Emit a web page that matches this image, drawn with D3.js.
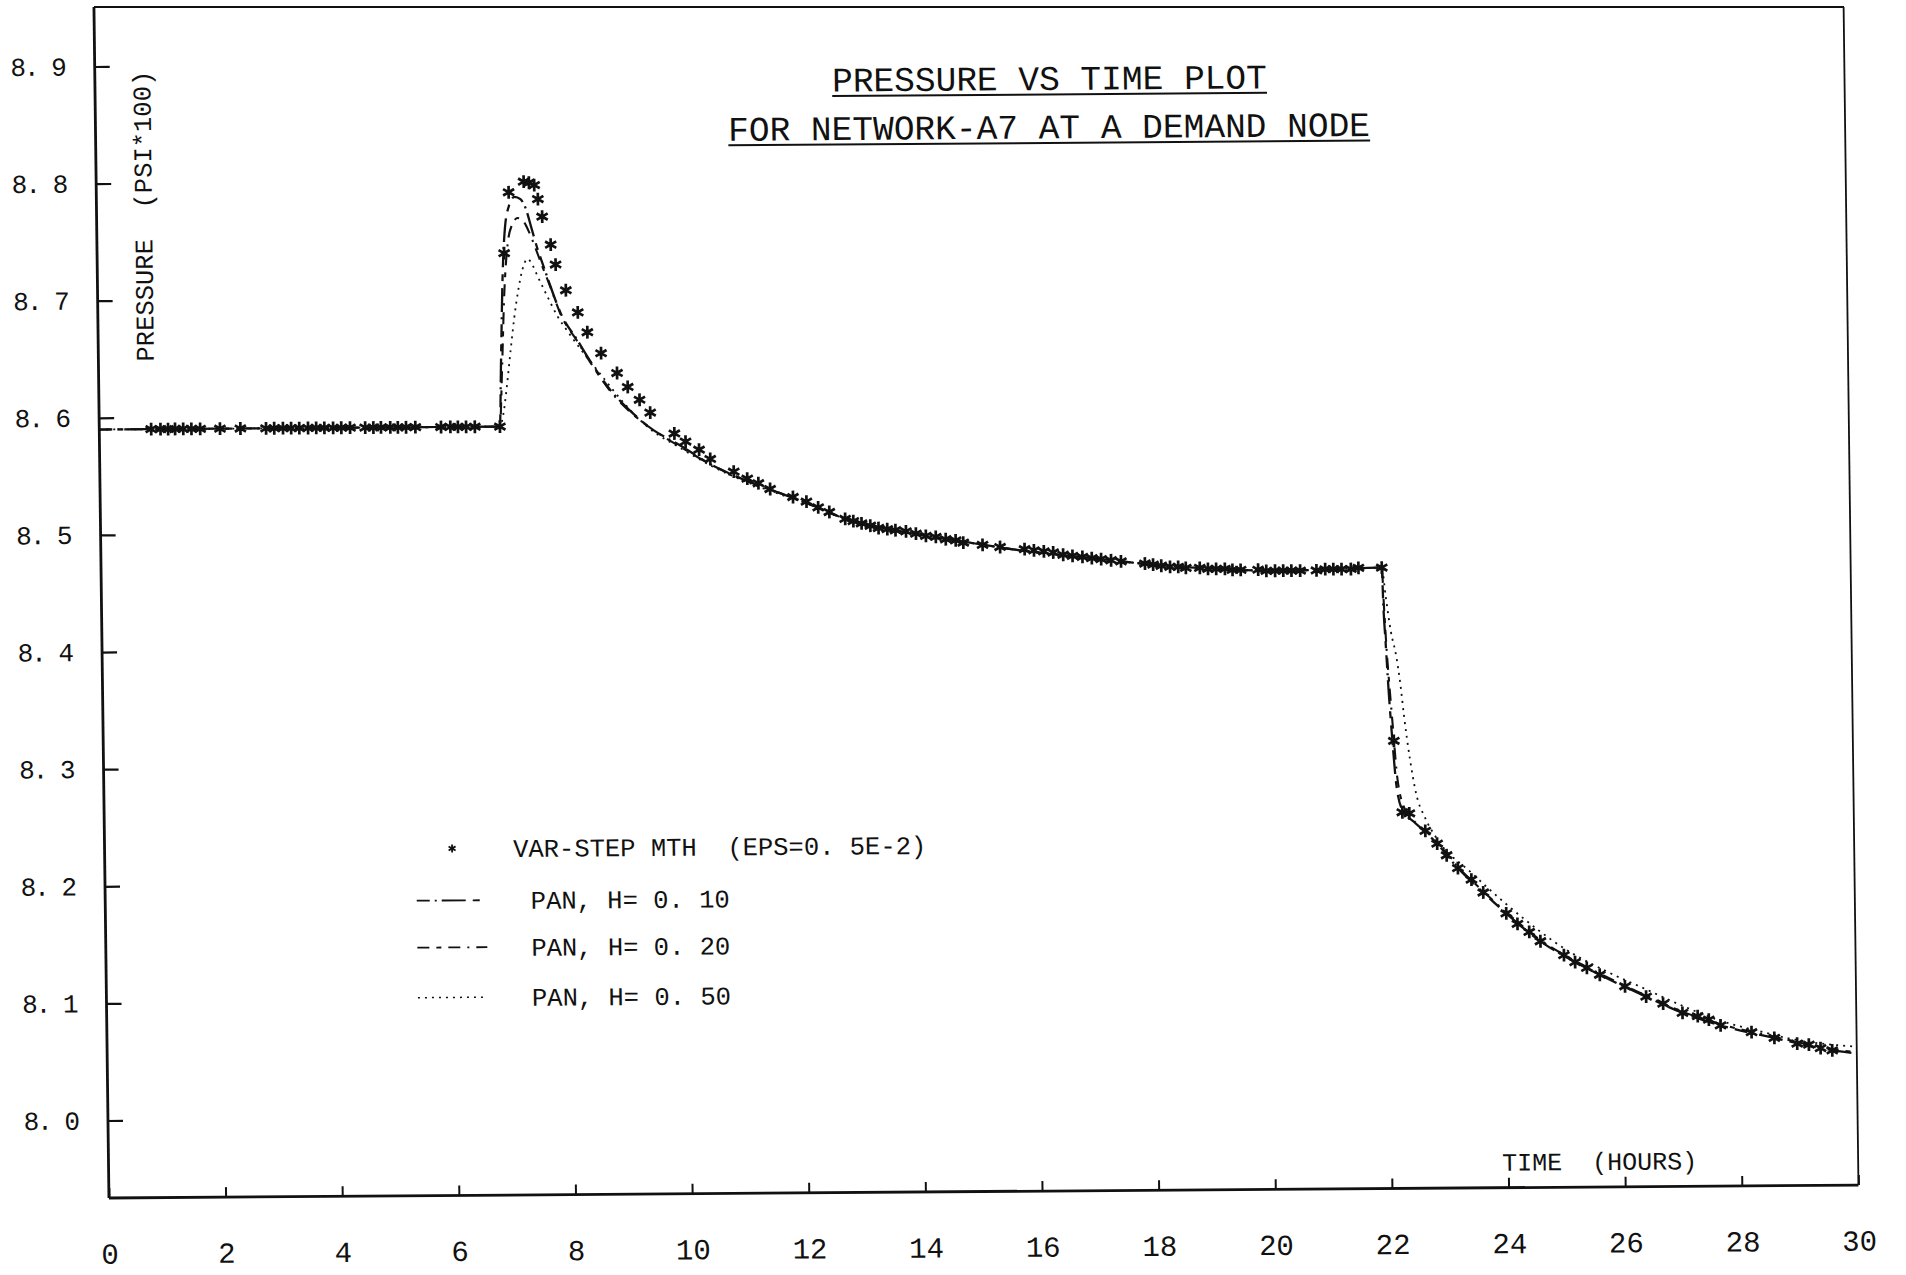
<!DOCTYPE html>
<html>
<head>
<meta charset="utf-8">
<script src="https://cdn.jsdelivr.net/npm/d3@7"></script>
<style>
  body { margin: 0; background: #fff; }
  svg text { font-family: "Liberation Mono", "DejaVu Sans Mono", monospace; fill: #111; white-space: pre; }
</style>
</head>
<body>
<div id="main"></div>
<script>
// ---- data ----
const xTickValues = [0, 2, 4, 6, 8, 10, 12, 14, 16, 18, 20, 22, 24, 26, 28, 30];
const yTickValues = [8.0, 8.1, 8.2, 8.3, 8.4, 8.5, 8.6, 8.7, 8.8, 8.9];

const titleLines = ['PRESSURE VS TIME PLOT', 'FOR NETWORK-A7 AT A DEMAND NODE'];
const yAxisTitle = 'PRESSURE  (PSI*100)';
const xAxisTitle = 'TIME  (HOURS)';
const legendLabels = ['VAR-STEP MTH  (EPS=0. 5E-2)', 'PAN, H= 0. 10', 'PAN, H= 0. 20', 'PAN, H= 0. 50'];

// variable step method, [hours, pressure]
const varStep = [
  [0.89,8.590],[1.05,8.590],[1.18,8.590],[1.30,8.590],[1.44,8.590],[1.58,8.590],[1.73,8.590],
  [2.07,8.590],[2.42,8.590],
  [2.86,8.590],[3.00,8.590],[3.15,8.590],[3.29,8.590],[3.43,8.590],[3.58,8.590],[3.72,8.590],
  [3.86,8.590],[4.01,8.590],[4.15,8.590],[4.30,8.590],
  [4.56,8.590],[4.70,8.590],[4.83,8.590],[4.99,8.590],[5.12,8.590],[5.26,8.590],[5.42,8.590],
  [5.86,8.590],[6.02,8.590],[6.15,8.590],[6.29,8.590],[6.44,8.590],
  [6.87,8.590],[6.98,8.738],[7.07,8.790],[7.33,8.799],[7.42,8.798],[7.51,8.796],[7.57,8.784],
  [7.64,8.769],[7.78,8.745],[7.86,8.728],[8.03,8.706],[8.23,8.687],[8.39,8.670],[8.62,8.652],
  [8.89,8.635],[9.07,8.623],[9.27,8.612],[9.45,8.601],
  [9.86,8.583],[10.05,8.576],[10.28,8.569],[10.47,8.561],
  [10.87,8.550],[11.10,8.544],[11.29,8.540],[11.49,8.535],
  [11.88,8.528],[12.11,8.524],[12.31,8.519],[12.50,8.515],
  [12.77,8.509],[12.91,8.507],[13.05,8.505],[13.20,8.503],[13.34,8.501],[13.49,8.500],[13.63,8.499],
  [13.81,8.498],[13.98,8.496],[14.15,8.494],[14.32,8.493],[14.49,8.491],[14.66,8.490],
  [14.79,8.488],[15.12,8.486],[15.42,8.484],
  [15.84,8.482],[16.00,8.481],[16.17,8.480],[16.33,8.479],[16.50,8.477],[16.66,8.476],
  [16.83,8.475],[16.99,8.474],[17.15,8.473],[17.32,8.472],[17.49,8.471],
  [17.90,8.469],[18.04,8.468],[18.18,8.467],[18.33,8.466],[18.47,8.466],[18.60,8.465],
  [18.84,8.465],[18.98,8.464],[19.12,8.464],[19.27,8.464],[19.40,8.463],[19.54,8.463],
  [19.84,8.463],[19.98,8.462],[20.13,8.462],[20.27,8.462],[20.41,8.462],[20.56,8.462],
  [20.84,8.462],[20.99,8.463],[21.13,8.463],[21.27,8.463],[21.43,8.463],[21.56,8.464],
  [21.96,8.464],
  [22.13,8.316],[22.26,8.255],[22.38,8.254],[22.65,8.239],[22.85,8.228],[23.01,8.218],
  [23.20,8.207],[23.43,8.197],[23.63,8.186],[24.02,8.168],[24.21,8.159],[24.41,8.152],
  [24.60,8.144],[25.00,8.132],[25.19,8.126],[25.39,8.121],[25.61,8.115],[26.04,8.105],
  [26.40,8.096],[26.69,8.090],[27.02,8.082],[27.28,8.079],[27.47,8.076],[27.67,8.071],
  [28.20,8.065],[28.59,8.060],[28.98,8.055],[29.18,8.054],[29.38,8.051],[29.58,8.049]
];

const panH010 = [
  [0,8.590],[6.87,8.590],[6.90,8.640],[6.95,8.720],[7.00,8.760],[7.07,8.778],[7.17,8.786],
  [7.27,8.784],[7.36,8.776],[7.45,8.760],[7.55,8.742],[7.65,8.727],[7.75,8.712],[7.94,8.686],
  [8.22,8.663],[8.45,8.644],[8.78,8.620],[9.10,8.603],[9.42,8.589],[9.98,8.572],[10.49,8.556],
  [11.00,8.544],[11.68,8.531],[12.30,8.519],[12.77,8.509],[13.63,8.499],[14.66,8.490],
  [15.77,8.481],[16.99,8.474],[18.04,8.468],[19.12,8.464],[20.27,8.462],[21.13,8.463],
  [21.96,8.464],[21.98,8.430],[22.01,8.400],[22.05,8.360],[22.10,8.320],[22.16,8.280],
  [22.26,8.257],[22.45,8.247],[22.65,8.238],[22.85,8.228],[23.20,8.207],[23.63,8.186],
  [24.02,8.168],[24.60,8.144],[25.19,8.126],[25.61,8.115],[26.40,8.096],[27.02,8.082],
  [27.67,8.071],[28.59,8.060],[29.38,8.051],[30.00,8.046]
];

const panH020 = [
  [0,8.590],[6.87,8.590],[6.92,8.640],[6.97,8.700],[7.04,8.745],[7.12,8.762],[7.22,8.768],
  [7.32,8.765],[7.42,8.755],[7.52,8.742],[7.62,8.728],[7.75,8.711],[7.94,8.685],[8.22,8.662],
  [8.45,8.643],[8.78,8.619],[9.10,8.602],[9.42,8.589],[9.98,8.571],[10.49,8.556],[11.00,8.544],
  [11.68,8.531],[12.30,8.519],[12.77,8.509],[13.63,8.499],[14.66,8.490],[15.77,8.481],
  [16.99,8.474],[18.04,8.468],[19.12,8.464],[20.27,8.462],[21.13,8.463],[21.96,8.464],
  [21.99,8.430],[22.03,8.390],[22.07,8.360],[22.12,8.325],[22.18,8.285],[22.30,8.258],
  [22.45,8.248],[22.65,8.239],[22.85,8.229],[23.20,8.208],[23.63,8.187],[24.02,8.169],
  [24.60,8.145],[25.19,8.127],[25.61,8.116],[26.40,8.097],[27.02,8.083],[27.67,8.072],
  [28.59,8.061],[29.38,8.052],[30.00,8.047]
];

const panH050 = [
  [0,8.590],[6.87,8.590],[6.93,8.600],[6.99,8.621],[7.07,8.655],[7.14,8.683],[7.22,8.708],
  [7.29,8.724],[7.38,8.733],[7.46,8.728],[7.55,8.718],[7.71,8.701],[7.88,8.684],[8.05,8.671],
  [8.34,8.651],[8.56,8.637],[9.06,8.606],[9.42,8.588],[9.98,8.570],[10.49,8.555],[11.00,8.543],
  [11.68,8.530],[12.30,8.519],[12.77,8.509],[13.63,8.499],[14.66,8.490],[15.77,8.481],
  [16.99,8.474],[18.04,8.468],[19.12,8.464],[20.27,8.462],[21.13,8.463],[21.96,8.464],
  [22.02,8.440],[22.10,8.410],[22.19,8.388],[22.25,8.366],[22.31,8.337],[22.40,8.301],
  [22.50,8.271],[22.65,8.250],[22.85,8.232],[23.43,8.203],[24.02,8.176],[25.06,8.136],
  [25.72,8.118],[26.37,8.103],[27.02,8.088],[27.67,8.075],[28.32,8.066],[28.98,8.058],
  [30.00,8.052]
];

class PressurePlot {
  constructor(config) {
    this.config = config;
    this.svg = null;
    this.plot = null;
    this.xScale = null;
    this.yScale = null;

    this.createSvg();
    this.createScales();
  }

  createSvg() {
    this.svg = d3.select(this.config.div)
      .append('svg')
      .attr('width', this.config.width)
      .attr('height', this.config.height);

    this.svg.append('rect')
      .attr('width', this.config.width)
      .attr('height', this.config.height)
      .attr('fill', '#fff');

    // the scanned page sits a little askew, so the whole plot gets a small shear
    this.plot = this.svg.append('g')
      .attr('transform', 'matrix(1,-0.0074,0.0126,1,-7.56,7.25)');
  }

  createScales() {
    const c = this.config;
    this.xScale = d3.scaleLinear().domain([0, 30]).range([c.left, c.right]);
    this.yScale = d3.scaleLinear().domain([8.0, 8.9]).range([c.y80, c.y89]);
  }

  createFrame() {
    const c = this.config;
    const g = this.plot.append('g')
      .attr('fill', 'none')
      .attr('stroke', '#111');

    g.append('line')
      .attr('x1', c.left).attr('x2', c.left)
      .attr('y1', 0.5).attr('y2', c.bottom)
      .attr('stroke-width', 2.8);
    g.append('line')
      .attr('x1', c.left).attr('x2', c.right)
      .attr('y1', c.bottom).attr('y2', c.bottom)
      .attr('stroke-width', 2.8);
    g.append('line')
      .attr('x1', c.right).attr('x2', c.right)
      .attr('y1', 13.5).attr('y2', c.bottom)
      .attr('stroke-width', 1.8);

    // top edge of the box, left straight on the page
    this.svg.append('line')
      .attr('x1', 94).attr('x2', 1844)
      .attr('y1', 7).attr('y2', 7)
      .attr('stroke', '#111')
      .attr('stroke-width', 2);
  }

  createAxis() {
    const c = this.config;

    let yAxis = d3.axisLeft(this.yScale)
      .tickValues(yTickValues)
      .tickSize(-15)
      .tickPadding(30)
      .tickFormat(d => d.toFixed(1).replace('.', '. '));

    let xAxis = d3.axisBottom(this.xScale)
      .tickValues(xTickValues)
      .tickSize(-10)
      .tickPadding(45)
      .tickFormat(d => d);

    const ya = this.plot.append('g')
      .attr('transform', `translate(${c.left},0)`)
      .call(yAxis);
    ya.select('.domain').remove();
    ya.selectAll('line').attr('stroke', '#111').attr('stroke-width', 2.2);
    ya.selectAll('text')
      .attr('font-size', 26)
      .attr('letter-spacing', -2)
      .attr('font-family', null)
      .attr('fill', '#111');

    const xa = this.plot.append('g')
      .attr('transform', `translate(0,${c.bottom})`)
      .call(xAxis);
    xa.select('.domain').remove();
    xa.selectAll('line').attr('stroke', '#111').attr('stroke-width', 2);
    xa.selectAll('text')
      .attr('font-size', 29)
      .attr('font-family', null)
      .attr('fill', '#111');

    this.plot.append('text')
      .attr('transform', 'translate(148,210) rotate(-90)')
      .attr('text-anchor', 'middle')
      .attr('dy', '0.35em')
      .attr('font-size', 25.5)
      .text(yAxisTitle);

    this.plot.append('text')
      .attr('x', 1495)
      .attr('y', 1174.5)
      .attr('font-size', 25)
      .text(xAxisTitle);
  }

  createTitle() {
    const baselines = [90.5, 139];
    const centers = [1056, 1055];
    titleLines.forEach((t, i) => {
      const txt = this.plot.append('text')
        .attr('x', centers[i])
        .attr('y', baselines[i])
        .attr('text-anchor', 'middle')
        .attr('font-size', 34.5)
        .text(t);
      const bb = txt.node().getBBox();
      this.plot.append('line')
        .attr('x1', bb.x).attr('x2', bb.x + bb.width)
        .attr('y1', baselines[i] + 4.5).attr('y2', baselines[i] + 4.5)
        .attr('stroke', '#111')
        .attr('stroke-width', 2);
    });
  }

  createLines() {
    const line = d3.line()
      .x(d => this.xScale(d[0]))
      .y(d => this.yScale(d[1]))
      .curve(d3.curveMonotoneX);

    const series = [
      { data: panH050, dash: this.config.dash[2], w: 1.8 },
      { data: panH020, dash: this.config.dash[1], w: 2.1 },
      { data: panH010, dash: this.config.dash[0], w: 2.3 }
    ];

    this.plot.selectAll('path.pan')
      .data(series)
      .join('path')
      .attr('class', 'pan')
      .attr('d', d => line(d.data))
      .attr('fill', 'none')
      .attr('stroke', '#111')
      .attr('stroke-width', d => d.w)
      .attr('stroke-dasharray', d => d.dash);
  }

  createStars() {
    const star = d3.symbol(d3.symbolAsterisk, 115);
    this.plot.selectAll('path.star')
      .data(varStep)
      .join('path')
      .attr('class', 'star')
      .attr('d', star)
      .attr('transform', d => `translate(${this.xScale(d[0])},${this.yScale(d[1])})`)
      .attr('fill', 'none')
      .attr('stroke', '#111')
      .attr('stroke-width', 2.7);
  }

  createLegend() {
    const rows = [844.5, 896.5, 943.5, 993.5];
    const g = this.plot.append('g');

    g.append('path')
      .attr('d', d3.symbol(d3.symbolAsterisk, 45)())
      .attr('transform', `translate(449,${rows[0]})`)
      .attr('fill', 'none')
      .attr('stroke', '#111')
      .attr('stroke-width', 1.8);

    [1, 2, 3].forEach(i => {
      g.append('line')
        .attr('x1', 413).attr('x2', 483)
        .attr('y1', rows[i]).attr('y2', rows[i])
        .attr('stroke', '#111')
        .attr('stroke-width', i == 3 ? 1.5 : 1.8)
        .attr('stroke-dasharray', this.config.dash[i - 1]);
    });

    legendLabels.forEach((t, i) => {
      g.append('text')
        .attr('x', i == 0 ? 510 : 527)
        .attr('y', rows[i] + 9)
        .attr('font-size', 25.5)
        .text(t);
    });
  }
}

function main() {
  let c = {
    div: '#main', width: 1906, height: 1275,
    left: 101.5, right: 1851, bottom: 1191.5, y80: 1114, y89: 60,
    dash: ['13,5,2,5,24,7,7,7', '12,7,5,7,12,7,2,7', '2,5']
  };

  let p = new PressurePlot(c);
  p.createFrame();
  p.createAxis();
  p.createTitle();
  p.createLines();
  p.createStars();
  p.createLegend();
}

main();
</script>
</body>
</html>
